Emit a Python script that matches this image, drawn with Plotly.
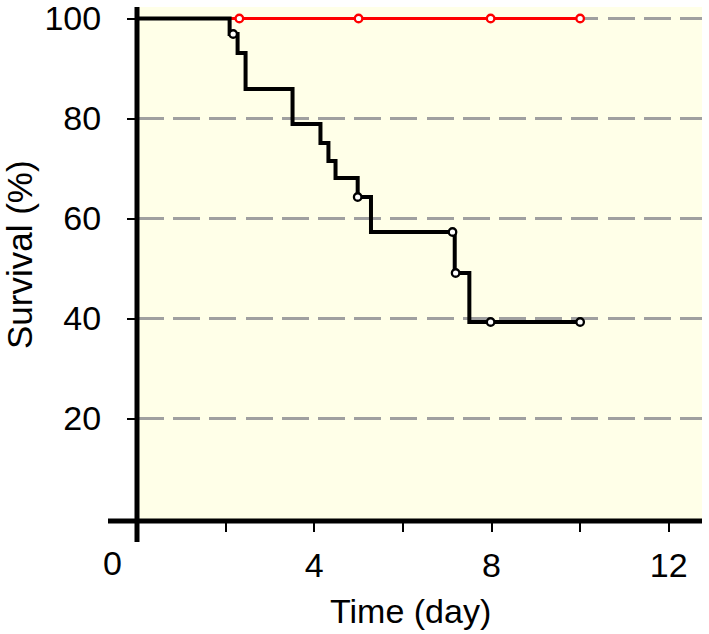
import plotly.graph_objects as go

# ---- data ----
black_time = [0, 2.09, 2.27, 2.45, 3.51, 4.14, 4.32, 4.48, 4.98, 5.28, 7.17, 7.50, 10.0]
black_surv = [100, 96.9, 93.1, 85.9, 78.9, 75.1, 71.5, 68.1, 64.3, 57.3, 49.1, 39.3, 39.3]
black_cens_time = [2.17, 4.98, 7.12, 7.19, 7.98, 10.0]
black_cens_surv = [96.9, 64.3, 57.3, 49.1, 39.3, 39.3]

red_time = [0, 10.0]
red_surv = [100, 100]
red_cens_time = [2.31, 5.0, 7.98, 10.0]
red_cens_surv = [100, 100, 100, 100]

x_tickvals = [2, 4, 6, 8, 10, 12]
x_ticktext = ["", "4", "", "8", "", "12"]
y_tickvals = [20, 40, 60, 80, 100]
y_ticktext = ["20", "40", "60", "80", "100"]

# ---- geometry ----
W, H = 709, 634
L, R, T, B = 137, 7, 7, 113
PW, PH = W - L - R, H - T - B

def px(xpix):
    return (xpix - L) / PW

def py(ypix):
    return (H - B - ypix) / PH

FONT = "Liberation Sans, Arial, sans-serif"
FS = 34

fig = go.Figure()

fig.add_trace(go.Scatter(x=red_time, y=red_surv, mode="lines", line_shape="hv",
                         line=dict(color="#ff0000", width=3), hoverinfo="skip", showlegend=False))
fig.add_trace(go.Scatter(x=black_time, y=black_surv, mode="lines", line_shape="hv",
                         line=dict(color="#000000", width=4), hoverinfo="skip", showlegend=False))
fig.add_trace(go.Scatter(x=red_cens_time, y=red_cens_surv, mode="markers",
                         marker=dict(symbol="circle", size=7.5, color="white",
                                     line=dict(color="#ff0000", width=2.3)),
                         hoverinfo="skip", showlegend=False, cliponaxis=False))
fig.add_trace(go.Scatter(x=black_cens_time, y=black_cens_surv, mode="markers",
                         marker=dict(symbol="circle", size=7.5, color="white",
                                     line=dict(color="#000000", width=2.3)),
                         hoverinfo="skip", showlegend=False, cliponaxis=False))

fig.update_layout(
    width=W, height=H,
    margin=dict(l=L, r=R, t=T, b=B, pad=0),
    paper_bgcolor="white",
    plot_bgcolor="#FFFFE8",
    font=dict(family=FONT, color="black", size=FS),
    showlegend=False,
    xaxis=dict(range=[0, 12.75], showline=False, zeroline=False, showgrid=False,
               tickmode="array", tickvals=x_tickvals, ticktext=x_ticktext,
               ticks="outside", ticklen=10, tickwidth=2, tickcolor="black",
               tickfont=dict(size=FS, family=FONT), ticklabelstandoff=4,
               ticklabeloverflow="allow",
               automargin=False, fixedrange=True),
    yaxis=dict(range=[-0.5, 102.3], showline=False, zeroline=False, showgrid=True,
               gridcolor="#a0a0a0", gridwidth=3, griddash="27px,9.2px",
               tickmode="array", tickvals=y_tickvals, ticktext=y_ticktext,
               ticks="outside", ticklen=9, tickwidth=2, tickcolor="black",
               tickfont=dict(size=FS, family=FONT), ticklabelstandoff=19,
               ticklabeloverflow="allow",
               automargin=False, fixedrange=True),
)

# axis lines (crossing, extending past each other)
fig.add_shape(type="line", xref="paper", yref="paper", x0=0, x1=0, y0=1, y1=py(542),
              line=dict(color="black", width=5), layer="above")
fig.add_shape(type="line", xref="paper", yref="paper", x0=px(108), x1=1, y0=0, y1=0,
              line=dict(color="black", width=5), layer="above")

# the '0' label sitting left of the y-axis
fig.add_annotation(text="0", xref="paper", yref="paper", x=px(112), y=py(563),
                   xanchor="center", yanchor="middle", showarrow=False,
                   font=dict(size=FS, family=FONT, color="black"))
# axis titles
fig.add_annotation(text="Time (day)", xref="paper", yref="paper", x=px(410), y=py(611),
                   xanchor="center", yanchor="middle", showarrow=False,
                   font=dict(size=FS, family=FONT, color="black"))
fig.add_annotation(text="Survival (%)", xref="paper", yref="paper", x=px(20), y=py(255),
                   xanchor="center", yanchor="middle", showarrow=False, textangle=-90,
                   font=dict(size=35, family=FONT, color="black"))

fig.write_html("out.html", config={"displayModeBar": False},
               post_script="document.body.style.margin='0px';document.body.style.overflow='hidden';")
